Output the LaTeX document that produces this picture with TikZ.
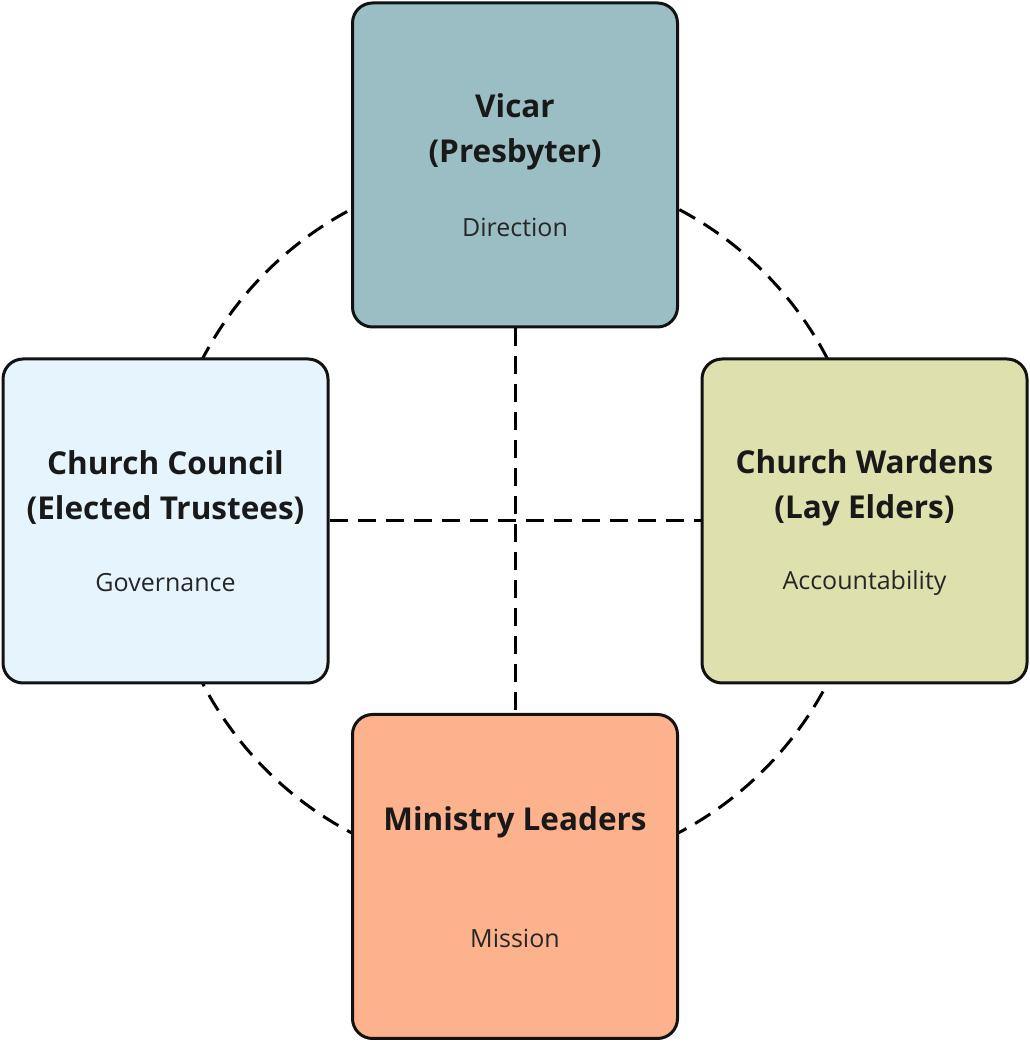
\documentclass[tikz,border=0pt]{standalone}
\usepackage{fontspec}
\setmainfont{Open Sans}
\definecolor{vicarblue}{HTML}{9BBEC5}
\definecolor{councilblue}{HTML}{E6F5FD}
\definecolor{wardengreen}{HTML}{DEE0AE}
\definecolor{ministryorange}{HTML}{FDB28E}
\begin{document}
\begin{tikzpicture}[x=1pt,y=1pt,
 box/.style={draw=black!93,line width=3pt,rounded corners=20pt,minimum width=325pt,minimum height=324pt,inner sep=0pt},
 ttl/.style={font=\bfseries\fontsize{31.5}{45}\selectfont,align=center,text=black!90},
 sub/.style={font=\fontsize{25}{28}\selectfont,text=black!85},
 dsh/.style={line width=3pt,dash pattern=on 18pt off 10pt}]
 \useasboundingbox (0,0) rectangle (1030,1042);
 % dashed ring behind the boxes
 \draw[dsh] (515,521) circle (352);
 \node[box,fill=vicarblue] (vicar) at (515,877) {};
 \node[box,fill=councilblue] (council) at (165.5,521) {};
 \node[box,fill=wardengreen] (wardens) at (864.5,521) {};
 \node[box,fill=ministryorange] (ministry) at (515,165.5) {};
 \draw[dsh] (vicar.south)--(ministry.north);
 \draw[dsh] (council.east)--(wardens.west);
 % titles
 \node[ttl] (vicart) at ([yshift=33]vicar.center) {Vicar\\(Presbyter)};
 \node[ttl] (councilt) at ([yshift=33]council.center) {Church Council\\(Elected Trustees)};
 \node[ttl] (wardenst) at ([yshift=33]wardens.center) {Church Wardens\\(Lay Elders)};
 \node[ttl] (ministryt) at ([yshift=54]ministry.center) {Ministry Leaders};
 % roles
 \node[sub] (vicars) at ([yshift=-62]vicar.center) {Direction};
 \node[sub] (councils) at ([yshift=-62]council.center) {Governance};
 \node[sub] (wardenss) at ([yshift=-62]wardens.center) {Accountability};
 \node[sub] (ministrys) at ([yshift=-62]ministry.center) {Mission};
\end{tikzpicture}
\end{document}
